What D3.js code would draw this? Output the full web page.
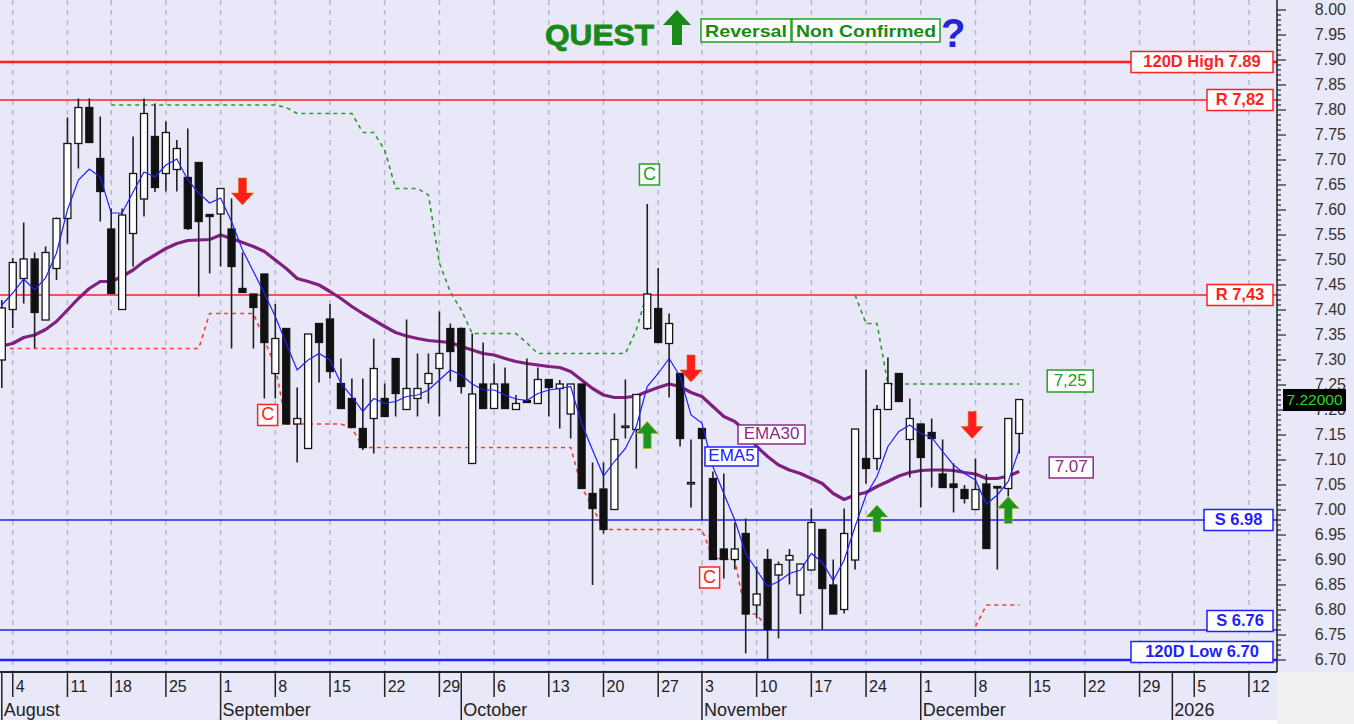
<!DOCTYPE html>
<html><head><meta charset="utf-8">
<script src="https://cdn.jsdelivr.net/npm/d3@7"></script>
<style>body{margin:0;background:#fff;} svg{display:block;font-family:"Liberation Sans",Arial,sans-serif;}</style>
</head><body><svg id="c" width="1354" height="724"></svg>
<script>
// ---------------- DATA ----------------
const opens  = [7.30,7.401,7.463,7.502,7.38,7.483,7.583,7.733,7.805,7.703,7.562,7.401,7.553,7.622,7.747,7.673,7.681,7.665,7.695,7.591,
  7.592,7.562,7.443,7.432,7.472,7.273,7.363,7.172,7.123,7.373,7.382,7.253,7.223,7.163,7.183,7.223,7.303,7.201,7.223,7.253,7.283,7.363,
  7.363,7.093,7.252,7.203,7.252,7.201,7.219,7.213,7.261,7.243,7.192,7.252,7.033,7.042,7.001,7.167,7.161,7.363,7.403,7.333,7.273,7.055,
  7.163,7.063,6.922,6.901,6.953,6.81,6.901,6.87,6.90,6.83,6.88,6.961,6.85,6.801,6.90,7.103,7.103,7.201,7.273,7.141,
  7.172,7.155,7.072,7.052,7.041,7.001,7.052,7.047,7.043,7.153];
const highs  = [7.42,7.504,7.575,7.515,7.527,7.585,7.785,7.823,7.823,7.787,7.603,7.603,7.747,7.823,7.813,7.777,7.74,7.763,7.695,7.592,
  7.644,7.623,7.515,7.432,7.472,7.412,7.363,7.245,7.352,7.373,7.412,7.303,7.263,7.263,7.343,7.253,7.303,7.381,7.313,7.313,7.397,7.373,
  7.365,7.353,7.335,7.293,7.285,7.23,7.303,7.285,7.261,7.26,7.252,7.252,7.095,7.095,7.193,7.261,7.231,7.612,7.484,7.393,7.273,7.141,
  7.163,7.077,7.073,6.975,6.983,6.887,6.922,6.897,6.922,6.892,7.003,6.961,6.901,7.003,7.162,7.281,7.21,7.305,7.273,7.223,
  7.172,7.183,7.141,7.093,7.05,7.103,7.072,7.047,7.183,7.221];
const lows   = [7.244,7.364,7.413,7.323,7.38,7.46,7.533,7.683,7.735,7.577,7.433,7.40,7.487,7.587,7.636,7.637,7.637,7.56,7.427,7.473,
  7.487,7.323,7.435,7.323,7.223,7.223,7.172,7.095,7.123,7.255,7.263,7.203,7.165,7.12,7.113,7.187,7.187,7.201,7.187,7.213,7.187,7.257,
  7.233,7.093,7.203,7.203,7.203,7.201,7.215,7.213,7.187,7.163,7.143,7.043,6.85,6.953,7.001,7.143,7.083,7.36,7.335,7.225,7.127,7.005,
  6.98,6.901,6.863,6.881,6.713,6.783,6.70,6.743,6.851,6.792,6.88,6.761,6.792,6.793,6.881,7.053,7.08,7.20,7.217,7.065,
  7.005,7.045,7.045,6.995,7.013,7.001,6.923,6.881,7.027,7.113];
const closes = [7.404,7.495,7.502,7.395,7.515,7.583,7.733,7.805,7.735,7.637,7.433,7.59,7.673,7.793,7.645,7.755,7.723,7.563,7.577,7.587,
  7.643,7.487,7.435,7.405,7.335,7.343,7.172,7.183,7.352,7.335,7.277,7.203,7.165,7.125,7.283,7.187,7.233,7.243,7.243,7.273,7.313,7.317,
  7.247,7.232,7.203,7.252,7.203,7.213,7.215,7.261,7.245,7.252,7.252,7.043,7.003,6.961,7.141,7.168,7.231,7.432,7.335,7.373,7.143,7.055,
  7.143,6.901,6.901,6.922,6.792,6.832,6.761,6.891,6.909,6.892,6.975,6.843,6.792,6.953,7.162,7.083,7.201,7.253,7.217,7.183,
  7.105,7.143,7.045,7.045,7.023,7.041,6.923,7.045,7.183,7.221];
const ema5 = [7.41,7.434,7.462,7.44,7.464,7.514,7.60,7.66,7.682,7.666,7.594,7.594,7.636,7.676,7.666,7.69,7.702,7.66,7.634,7.614,
  7.624,7.577,7.52,7.477,7.433,7.387,7.333,7.28,7.30,7.313,7.30,7.253,7.227,7.197,7.223,7.213,7.217,7.227,7.23,7.24,7.26,7.28,
  7.27,7.252,7.24,7.24,7.23,7.222,7.219,7.233,7.24,7.243,7.247,7.173,7.12,7.068,7.097,7.123,7.167,7.247,7.273,7.303,7.267,7.19,
  7.174,7.087,7.033,6.98,6.913,6.88,6.847,6.857,6.873,6.88,6.913,6.895,6.859,6.90,6.967,7.03,7.067,7.127,7.157,7.17,
  7.153,7.145,7.117,7.09,7.073,7.06,7.012,7.03,7.057,7.121];
const ema30 = [7.328,7.333,7.345,7.35,7.361,7.377,7.40,7.423,7.443,7.457,7.457,7.467,7.48,7.497,7.51,7.523,7.533,7.539,7.54,7.541,
  7.55,7.543,7.535,7.527,7.517,7.50,7.483,7.463,7.457,7.45,7.437,7.423,7.407,7.393,7.38,7.367,7.355,7.348,7.343,7.339,7.337,7.335,
  7.327,7.32,7.313,7.31,7.303,7.297,7.293,7.29,7.287,7.285,7.277,7.26,7.243,7.23,7.225,7.225,7.228,7.237,7.245,7.252,7.247,7.235,
  7.227,7.207,7.187,7.177,7.157,7.127,7.107,7.09,7.08,7.073,7.063,7.053,7.033,7.021,7.03,7.035,7.047,7.057,7.068,7.075,
  7.079,7.08,7.08,7.079,7.075,7.072,7.063,7.063,7.068,7.077];
const N = null;
const stopHigh = [N,N,N,N,N,N,N,N,N,N,7.81,7.81,7.81,7.81,7.81,7.81,7.81,7.81,7.81,7.81,
  7.81,7.81,7.81,7.81,7.81,7.81,7.805,7.793,7.793,7.793,7.793,7.793,7.793,7.755,7.755,7.72,7.643,7.643,7.643,7.63,7.494,7.436,
  7.40,7.353,7.353,7.353,7.353,7.353,7.334,7.313,7.313,7.313,7.313,7.313,7.313,7.313,7.313,7.313,7.36,7.435,N,N,N,N,
  N,N,N,N,N,N,N,N,N,N,N,N,N,N,7.43,7.373,7.373,7.252,7.252,7.252,
  7.252,7.252,7.252,7.252,7.252,7.252,7.252,7.252,7.252,7.252];
const stopLow = [7.323,7.323,7.323,7.323,7.323,7.323,7.323,7.323,7.323,7.323,7.323,7.323,7.323,7.323,7.323,7.323,7.323,7.323,7.323,7.393,
  7.393,7.393,7.393,7.393,7.34,7.287,7.172,7.172,7.172,7.172,7.172,7.172,7.164,7.125,7.125,7.125,7.125,7.125,7.125,7.125,7.125,7.125,
  7.125,7.125,7.125,7.125,7.125,7.125,7.125,7.125,7.125,7.125,7.125,7.046,7.006,6.961,6.961,6.961,6.961,6.961,6.961,6.961,6.961,6.961,
  6.961,6.903,6.903,6.90,6.792,6.792,6.761,N,N,N,N,N,N,N,N,N,N,N,N,N,
  N,N,N,N,N,6.767,6.81,6.81,6.81,6.81];
const holidays = ["2025-08-15","2025-10-31"];
const monthNames = ["January","February","March","April","May","June","July","August","September","October","November","December"];
const yTickValues = d3.range(0,27).map(k => +(6.70 + k*0.05).toFixed(2));
const levels = [
  {v:7.89, label:"120D High 7.89", color:"#ff1f1f", w:2.5, bw:142, dy:-3},
  {v:7.82, label:"R 7,82", color:"#ff1f1f", w:1.5, bw:66, dy:0},
  {v:7.43, label:"R 7,43", color:"#ff1f1f", w:1.5, bw:66, dy:0},
  {v:6.98, label:"S 6.98", color:"#1f1fff", w:1.5, bw:69, dy:0},
  {v:6.76, label:"S 6.76", color:"#1f1fff", w:1.5, bw:66, dy:-9},
  {v:6.70, label:"120D Low 6.70", color:"#1f1fff", w:2.5, bw:142, dy:-8}
];
const signals = [
  {i:22, v:7.61, dir:"down"}, {i:63, v:7.256, dir:"down"}, {i:88.7, v:7.143, dir:"down"},
  {i:59, v:7.177, dir:"up"}, {i:80, v:7.01, dir:"up"}, {i:92, v:7.027, dir:"up"}
];
const cMarks = [{i:24.3, v:7.19, color:"#ff2020"}, {i:64.7, v:6.865, color:"#ff2020"}, {i:59.2, v:7.671, color:"#22a022"}];
const emaTags = [{i:70.36, v:7.151, text:"EMA30", color:"#8b2a8b", w:67}, {i:66.7, v:7.107, text:"EMA5", color:"#2020ff", w:53}];
const lastPrice = 7.22;

// ---------------- LAYOUT ----------------
const W=1354, H=724, plotR=1277, axisTop=672;
const bg="#e8e8f8";
const svg=d3.select("#c");
const x=d3.scaleLinear().domain([0,93]).range([1.8,1019.2]);
const y=d3.scaleLinear().domain([6.70,8.00]).range([660,10]);

function key(d){return d.getFullYear()+"-"+String(d.getMonth()+1).padStart(2,"0")+"-"+String(d.getDate()).padStart(2,"0");}
const dates=[]; {let d=new Date(2025,7,1); while(dates.length<118){const w=d.getDay(); if(w>0&&w<6&&!holidays.includes(key(d))) dates.push(new Date(d)); d.setDate(d.getDate()+1);} }

svg.append("rect").attr("width",W).attr("height",H).attr("fill","#fff");
svg.append("rect").attr("width",W).attr("height",720).attr("fill",bg);
svg.append("rect").attr("x",plotR).attr("y",axisTop).attr("width",W-plotR).attr("height",H-axisTop).attr("fill","#f0f0f0");

svg.append("clipPath").attr("id","pc").append("rect").attr("width",plotR).attr("height",axisTop);
const g=svg.append("g").attr("clip-path","url(#pc)");

const mondays=dates.map((d,i)=>({d,i})).filter(o=>o.d.getDay()===1);
g.selectAll("line.grid").data(mondays).join("line").attr("x1",o=>x(o.i)).attr("x2",o=>x(o.i))
  .attr("y1",0).attr("y2",axisTop).attr("stroke","#b9b9c4").attr("stroke-width",1.5).attr("stroke-dasharray","5,5");

g.selectAll("line.lvl").data(levels).join("line").attr("x1",0).attr("x2",plotR)
  .attr("y1",d=>y(d.v)+(d.dy===-3?-3:0)).attr("y2",d=>y(d.v)+(d.dy===-3?-3:0)).attr("stroke",d=>d.color).attr("stroke-width",d=>d.w);

const sl=d3.line().defined(d=>d!=null).x((d,i)=>x(i)).y(d=>y(d));
g.append("path").attr("d",sl(stopHigh)).attr("fill","none").attr("stroke","#2a9a2a").attr("stroke-width",1.6).attr("stroke-dasharray","4,4");
g.append("path").attr("d",sl(stopLow)).attr("fill","none").attr("stroke","#ff3a3a").attr("stroke-width",1.6).attr("stroke-dasharray","4,4");

const ln=d3.line().x((d,i)=>x(i)).y(d=>y(d));
g.append("path").attr("d",ln(ema30)).attr("fill","none").attr("stroke","#7f1f80").attr("stroke-width",3.2).attr("stroke-linejoin","round");

const idx=d3.range(closes.length);
g.selectAll("line.wick").data(idx).join("line").attr("x1",i=>x(i)).attr("x2",i=>x(i))
  .attr("y1",i=>y(highs[i])).attr("y2",i=>y(lows[i])).attr("stroke","#202020").attr("stroke-width",1.6);
g.selectAll("rect.body").data(idx).join("rect")
  .attr("x",i=>x(i)-3.5).attr("width",7)
  .attr("y",i=>y(Math.max(opens[i],closes[i])))
  .attr("height",i=>Math.max(1.5,Math.abs(y(opens[i])-y(closes[i]))))
  .attr("fill",i=>closes[i]>=opens[i]?"#ffffff":"#111111")
  .attr("stroke","#151515").attr("stroke-width",1.3);

g.append("path").attr("d",ln(ema5)).attr("fill","none").attr("stroke","#1e1eff").attr("stroke-width",1.2);

function arrowPath(dir,s){
  const sh=4*s, hw=11*s, hh=12*s, L=27*s, k=dir==="down"?-1:1;
  return `M${-sh},${k*L}L${sh},${k*L}L${sh},${k*hh}L${hw},${k*hh}L0,0L${-hw},${k*hh}L${-sh},${k*hh}Z`;
}
g.selectAll("path.sig").data(signals).join("path")
  .attr("d",d=>arrowPath(d.dir,1)).attr("transform",d=>`translate(${x(d.i)},${y(d.v)})`)
  .attr("fill",d=>d.dir==="down"?"#ff1c1c":"#1e951e").attr("stroke",d=>d.dir==="down"?"#e86a00":"#c8c020").attr("stroke-width",0.6);

function box(parent,cx,cy,w,h,text,color,fs,bold,anchor){
  const gg=parent.append("g");
  const x0= anchor==="right"? cx-w : (anchor==="left"? cx : cx-w/2);
  gg.append("rect").attr("x",x0).attr("y",cy-h/2).attr("width",w).attr("height",h).attr("fill","#fff").attr("stroke",color).attr("stroke-width",1.5);
  gg.append("text").attr("x",x0+w/2).attr("y",cy+0.5).attr("text-anchor","middle").attr("dominant-baseline","middle")
    .attr("font-size",fs).attr("font-weight",bold?"bold":"normal").attr("fill",color).text(text);
  return gg;
}
cMarks.forEach(c=>box(g,x(c.i),y(c.v),20,21,"C",c.color,18,false));
emaTags.forEach(t=>box(g,x(t.i),y(t.v),t.w,19,t.text,t.color,17,false));
levels.forEach(l=>box(g,1273,y(l.v)+l.dy,l.bw,21,l.label,l.color,16.5,true,"right"));
box(g,x(93)+28,y(stopHigh[93])-3,46,22,"7,25","#2a9a2a",17,false,"left");
box(g,x(93)+30,y(ema30[93])-4,44,21,"7.07","#8b2a8b",17,false,"left");

const tg=svg.append("g");
tg.append("text").attr("x",545).attr("y",45).attr("font-size",30).attr("font-weight","900").attr("fill","#178a17")
  .attr("textLength",109).attr("lengthAdjust","spacingAndGlyphs").attr("stroke","#178a17").attr("stroke-width",0.8).text("QUEST");
tg.append("path").attr("d","M-5,35L5,35L5,15L14,15L0,0L-14,15L-5,15Z").attr("transform","translate(677,10)").attr("fill","#178a17");
[{x0:701,w:90,t:"Reversal"},{x0:792,w:148,t:"Non Confirmed"}].forEach(b=>{
  tg.append("rect").attr("x",b.x0).attr("y",19).attr("width",b.w).attr("height",23).attr("fill","#fff").attr("stroke","#22a022").attr("stroke-width",1.5);
  tg.append("text").attr("x",b.x0+b.w/2).attr("y",37).attr("text-anchor","middle").attr("font-size",17).attr("font-weight","bold")
    .attr("fill","#178a17").attr("textLength",b.w-8).attr("lengthAdjust","spacingAndGlyphs").text(b.t);
});
tg.append("text").attr("x",941).attr("y",47).attr("font-size",40).attr("font-weight","900").attr("fill","#2323d8").text("?");

// right axis
svg.append("line").attr("x1",plotR).attr("x2",plotR).attr("y1",0).attr("y2",axisTop).attr("stroke","#222").attr("stroke-width",1.5);
const minor=d3.range(0,131).map(k=>6.70+k*0.01);
svg.selectAll("line.mt").data(minor).join("line").attr("x1",plotR).attr("x2",(d,k)=>plotR+(k%5===0?9:4))
  .attr("y1",d=>y(d)).attr("y2",d=>y(d)).attr("stroke","#222").attr("stroke-width",1.2);
svg.selectAll("text.yt").data(yTickValues.filter(v=>Math.abs(v-lastPrice)>0.025)).join("text").attr("x",1346).attr("y",d=>y(d)+0.5)
  .attr("text-anchor","end").attr("dominant-baseline","middle").attr("font-size",16).attr("fill","#333").text(d=>d.toFixed(2));
// tick labels partly hidden behind the price tag (as in the reference)
const hidden=yTickValues.filter(v=>Math.abs(v-lastPrice)<=0.025);
svg.selectAll("text.yh").data(hidden).join("text").attr("x",1346).attr("y",d=>y(d)+0.5)
  .attr("text-anchor","end").attr("dominant-baseline","middle").attr("font-size",16).attr("fill","#333").text(d=>d.toFixed(2));
svg.append("rect").attr("x",1283).attr("y",y(lastPrice)-11).attr("width",63).attr("height",22).attr("fill","#000");
svg.append("text").attr("x",1314.5).attr("y",y(lastPrice)+0.5).attr("text-anchor","middle").attr("dominant-baseline","middle")
  .attr("font-size",15.5).attr("fill","#22dd22").text(lastPrice.toFixed(5));

// bottom axis
svg.append("line").attr("x1",0).attr("x2",plotR).attr("y1",axisTop).attr("y2",axisTop).attr("stroke","#222").attr("stroke-width",2);
const monthStarts=dates.map((d,i)=>({d,i})).filter(o=>o.i===0||o.d.getMonth()!==dates[o.i-1].getMonth());
const daySeps=dates.map((d,i)=>({d,i})).filter(o=>o.d.getDay()===1||monthStarts.some(m=>m.i===o.i)).filter(o=>x(o.i)<plotR);
svg.selectAll("line.ds").data(daySeps).join("line").attr("x1",o=>x(o.i)).attr("x2",o=>x(o.i)).attr("y1",axisTop).attr("y2",697)
  .attr("stroke","#222").attr("stroke-width",1.5);
svg.selectAll("text.dl").data(mondays.filter(o=>x(o.i)<plotR-10)).join("text").attr("x",o=>x(o.i)+3).attr("y",692)
  .attr("font-size",16).attr("fill","#222").text(o=>o.d.getDate());
svg.selectAll("line.ms").data(monthStarts.filter(o=>x(o.i)<plotR)).join("line").attr("x1",o=>x(o.i)).attr("x2",o=>x(o.i)).attr("y1",697).attr("y2",720)
  .attr("stroke","#222").attr("stroke-width",1.5);
svg.selectAll("text.ml").data(monthStarts.filter(o=>x(o.i)<plotR)).join("text").attr("x",o=>x(o.i)+2).attr("y",716)
  .attr("font-size",18).attr("fill","#222").text(o=>o.d.getMonth()===0?String(o.d.getFullYear()):monthNames[o.d.getMonth()]);
</script></body></html>
